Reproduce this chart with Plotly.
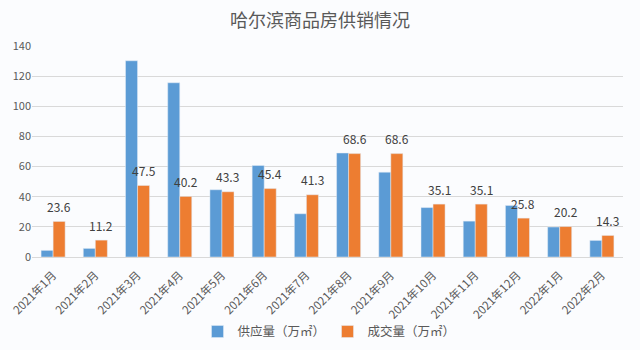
import plotly.graph_objects as go

months = ["2021年1月", "2021年2月", "2021年3月", "2021年4月", "2021年5月", "2021年6月",
          "2021年7月", "2021年8月", "2021年9月", "2021年10月", "2021年11月", "2021年12月",
          "2022年1月", "2022年2月"]
supply = [4.4, 5.7, 130.2, 115.6, 44.6, 60.7, 28.7, 69.0, 56.3, 32.8, 23.8, 34.2, 19.9, 11.0]
sales = [23.6, 11.2, 47.5, 40.2, 43.3, 45.4, 41.3, 68.6, 68.6, 35.1, 35.1, 25.8, 20.2, 14.3]
y_ticks = [0, 20, 40, 60, 80, 100, 120, 140]

FONT = "Noto Sans CJK SC"
BG = "#fbfcfe"

fig = go.Figure()
fig.add_trace(go.Bar(x=months, y=supply, name="供应量（万㎡）", marker_color="#5b9bd5"))
fig.add_trace(go.Bar(x=months, y=sales, name="成交量（万㎡）", marker_color="#ed7d31"))

for m, v in zip(months, sales):
    fig.add_annotation(x=m, y=v, text=f"{v:.1f}", showarrow=False, xref="x", yref="y",
                       xshift=6, yshift=15, yanchor="middle",
                       font=dict(family=FONT, size=12, color="#404040"))

fig.update_layout(
    width=640, height=350,
    margin=dict(l=32, r=17, t=46, b=93, autoexpand=False),
    paper_bgcolor=BG, plot_bgcolor=BG,
    barmode="group", bargap=0.43, bargroupgap=0,
    title=dict(text="哈尔滨商品房供销情况", x=0.5, xanchor="center", y=1 - 21 / 350, yanchor="middle",
               font=dict(family=FONT, size=18, color="#595959")),
    font=dict(family=FONT, size=11, color="#595959"),
    legend=dict(orientation="h", x=0.5, xanchor="center", y=-0.355, yanchor="middle",
                entrywidth=85, itemwidth=30,
                font=dict(family=FONT, size=12.5, color="#595959"), bgcolor="rgba(0,0,0,0)"),
    showlegend=True,
)
fig.update_xaxes(type="category", tickangle=-45, automargin=False, ticklabelstandoff=6,
                 tickfont=dict(family=FONT, size=11.5, color="#595959"),
                 showgrid=False, showline=True, linecolor="#d9d9d9", linewidth=1, ticks="")
fig.update_yaxes(range=[0, 140], tickvals=y_ticks, showgrid=True, gridcolor="#d9d9d9", gridwidth=1,
                 zeroline=False, showline=False, ticks="", automargin=False,
                 tickfont=dict(family=FONT, size=11, color="#595959"))

fig.write_html("out.html")
